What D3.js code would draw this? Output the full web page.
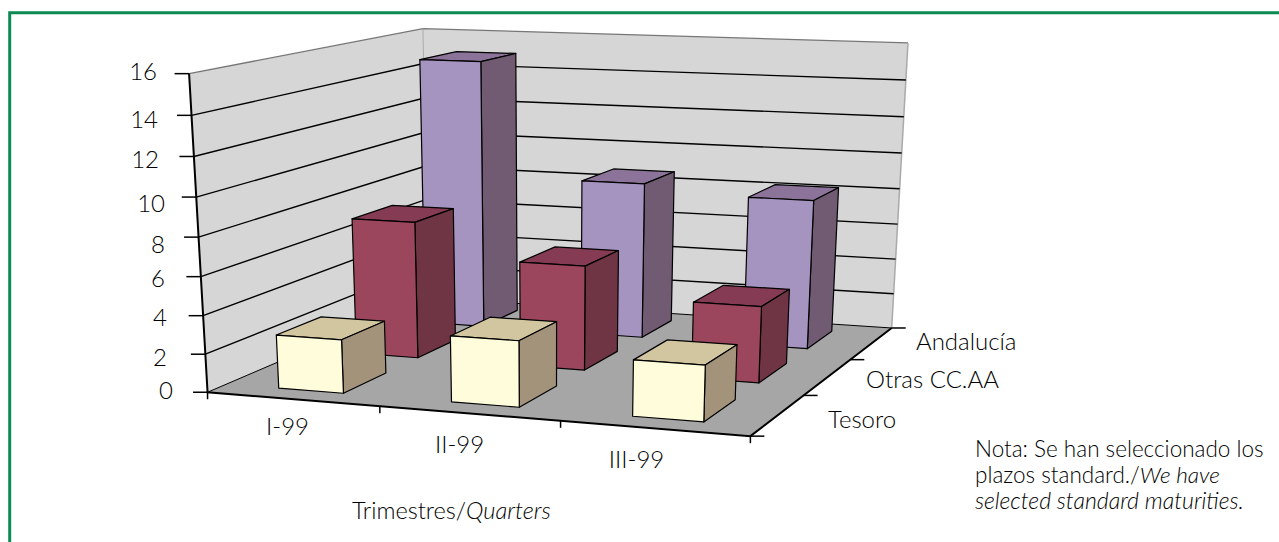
<!DOCTYPE html>
<html><head><meta charset="utf-8">
<script src="https://cdn.jsdelivr.net/npm/d3@7/dist/d3.min.js"></script>
<style>html,body{margin:0;padding:0;background:#fff}svg{display:block}text{font-family:Lato,sans-serif;font-weight:300;fill:#000}</style>
</head><body><svg id="c" width="1279" height="542"></svg>
<script>
const categories=["I-99","II-99","III-99"];
const seriesNames=["Tesoro","Otras CC.AA","Andalucía"];
const tesoro=[2.8,3.4,2.85];
const otras=[7.4,5.6,4.05];
const andalucia=[14.95,8.65,8.2];
const seriesValues=[tesoro,otras,andalucia];
const yTicks=[0,2,4,6,8,10,12,14,16];
const faceColors=[
 {front:"#fffcdb",side:"#a3937a",top:"#d2c6a1"},
 {front:"#9c465d",side:"#6f3545",top:"#853b53"},
 {front:"#a594c0",side:"#705b73",top:"#8b7399"}];
const yLabelAnchor=[[173,399],[167,366],[167,326],[165,287],[165,253],[165,212],[159,168],[158,128],[157,80]];
const catLabelPos=[[287.5,435],[459.5,453],[636.5,468]];
const serLabelPos=[[828,428],[866,388],[916,350]];

// calibration of the box corners: [x,z,y] -> screen
const calib=[[0,0,0,208,393],[1,0,0,750,436],[1,1,0,892,328],[0,1,0,428,297],
 [0,0,1,189,73],[0,1,1,423,29],[1,1,1,908,43]];
function solve(A,b){const n=b.length;const M=A.map((r,i)=>[...r,b[i]]);
 for(let i=0;i<n;i++){let p=i;for(let k=i+1;k<n;k++)if(Math.abs(M[k][i])>Math.abs(M[p][i]))p=k;
  [M[i],M[p]]=[M[p],M[i]];
  for(let k=0;k<n;k++){if(k==i)continue;const f=M[k][i]/M[i][i];for(let j=i;j<=n;j++)M[k][j]-=f*M[i][j];}}
 return M.map((r,i)=>r[n]/r[i]);}
const rows=[],rhs=[];
calib.forEach(([x,z,y,u,v])=>{
 rows.push([x,z,y,1,0,0,0,0,-u*x,-u*z,-u*y]);rhs.push(u);
 rows.push([0,0,0,0,x,z,y,1,-v*x,-v*z,-v*y]);rhs.push(v);});
const ATA=d3.range(11).map(i=>d3.range(11).map(j=>d3.sum(rows,r=>r[i]*r[j])));
const ATb=d3.range(11).map(i=>d3.sum(rows,(r,k)=>r[i]*rhs[k]));
const H=solve(ATA,ATb);
function proj(x,z,y){const w=H[8]*x+H[9]*z+H[10]*y+1;
 return [(H[0]*x+H[1]*z+H[2]*y+H[3])/w,(H[4]*x+H[5]*z+H[6]*y+H[7])/w];}

const yS=d3.scaleLinear().domain([0,16]).range([0,1]);
const xBand=d3.scaleBand().domain(categories).range([0,1]).paddingInner(0.62).paddingOuter(0.31);
const zBand=d3.scaleBand().domain(seriesNames).range([0,1]).paddingInner(0.445).paddingOuter(0.2225);
const xCat=d3.scaleBand().domain(categories).range([0,1]);
const zCat=d3.scaleBand().domain(seriesNames).range([0,1]);

const svg=d3.select("#c");
const line=d3.line();
const poly=pts=>line(pts)+"Z";
// frame (left and top edges only)
svg.append("path").attr("d","M9.7,542V12.7H1279").attr("fill","none").attr("stroke","#0d8a54").attr("stroke-width",3);

// walls and floor
svg.append("path").attr("d",poly([proj(0,0,0),proj(0,1,0),proj(0,1,1),proj(0,0,1)])).attr("fill","#d6d6d6");
svg.append("path").attr("d",poly([proj(0,1,0),proj(1,1,0),proj(1,1,1),proj(0,1,1)])).attr("fill","#d6d6d6");
svg.append("path").attr("d",poly([proj(0,0,0),proj(1,0,0),proj(1,1,0),proj(0,1,0)])).attr("fill","#a6a6a6");
// wall outline
svg.append("path").attr("d",line([proj(0,0,1),proj(0,1,1),proj(1,1,1)])).attr("fill","none").attr("stroke","#777").attr("stroke-width",1.3);
svg.append("path").attr("d",line([proj(0,1,0),proj(0,1,1)])).attr("fill","none").attr("stroke","#aaa").attr("stroke-width",1);
svg.append("path").attr("d",line([proj(1,1,0),proj(1,1,1)])).attr("fill","none").attr("stroke","#aaa").attr("stroke-width",1.5);
// gridlines
yTicks.forEach(t=>{
 if(t===16)return;
 svg.append("path").attr("d",line([proj(0,0,yS(t)),proj(0,1,yS(t)),proj(1,1,yS(t))]))
  .attr("fill","none").attr("stroke","#000").attr("stroke-width",t===0?1:1.4);
});
// bars back to front
const G=svg.append("g").attr("stroke","#000").attr("stroke-width",1.2).attr("stroke-linejoin","round");
seriesNames.map((s,i)=>i).reverse().forEach(si=>{
 const z0=zBand(seriesNames[si]),z1=z0+zBand.bandwidth();
 categories.forEach((c,ci)=>{
  const x0=xBand(c),x1=x0+xBand.bandwidth(),y1=yS(seriesValues[si][ci]);
  const col=faceColors[si];
  G.append("path").attr("d",poly([proj(x0,z0,y1),proj(x1,z0,y1),proj(x1,z1,y1),proj(x0,z1,y1)])).attr("fill",col.top);
  G.append("path").attr("d",poly([proj(x1,z0,0),proj(x1,z1,0),proj(x1,z1,y1),proj(x1,z0,y1)])).attr("fill",col.side);
  G.append("path").attr("d",poly([proj(x0,z0,0),proj(x1,z0,0),proj(x1,z0,y1),proj(x0,z0,y1)])).attr("fill",col.front);
 });
});
// axes
const axis=svg.append("g").attr("stroke","#000").attr("fill","none");
axis.append("path").attr("d",line([proj(0,0,1),proj(0,0,0),proj(1,0,0),proj(1,1,0)])).attr("stroke-width",2);
const txt=svg.append("g");
yTicks.forEach((t,i)=>{
 const p=proj(0,0,yS(t));
 axis.append("path").attr("d",line([[p[0]-14.5,p[1]],p])).attr("stroke-width",1.5);
 txt.append("text").attr("x",yLabelAnchor[i][0]).attr("y",yLabelAnchor[i][1]).attr("text-anchor","end").attr("font-size",24).text(t);
});
[0,...categories.map(c=>xCat(c)+xCat.bandwidth())].forEach(v=>{
 const p=proj(v,0,0);
 axis.append("path").attr("d",line([p,[p[0],p[1]+7]])).attr("stroke-width",1.5);
});
[0,...seriesNames.map(s=>zCat(s)+zCat.bandwidth())].forEach(v=>{
 const p=proj(1,v,0);
 axis.append("path").attr("d",line([p,[p[0]+14,p[1]]])).attr("stroke-width",1.5);
});
categories.forEach((c,i)=>txt.append("text").attr("x",catLabelPos[i][0]).attr("y",catLabelPos[i][1]).attr("text-anchor","middle").attr("font-size",24).text(c));
seriesNames.forEach((s,i)=>txt.append("text").attr("x",serLabelPos[i][0]).attr("y",serLabelPos[i][1]).attr("font-size",24).text(s));
const title=txt.append("text").attr("x",352).attr("y",519).attr("font-size",23.6);
title.append("tspan").text("Trimestres/");
title.append("tspan").attr("font-style","italic").text("Quarters");
txt.append("text").attr("x",975).attr("y",457).attr("font-size",22.5).text("Nota: Se han seleccionado los");
const n2=txt.append("text").attr("x",975).attr("y",483).attr("font-size",22.5);
n2.append("tspan").text("plazos standard./");
n2.append("tspan").attr("font-style","italic").text("We have");
txt.append("text").attr("x",975).attr("y",509).attr("font-size",23).attr("font-style","italic").text("selected standard maturities.");
</script></body></html>
